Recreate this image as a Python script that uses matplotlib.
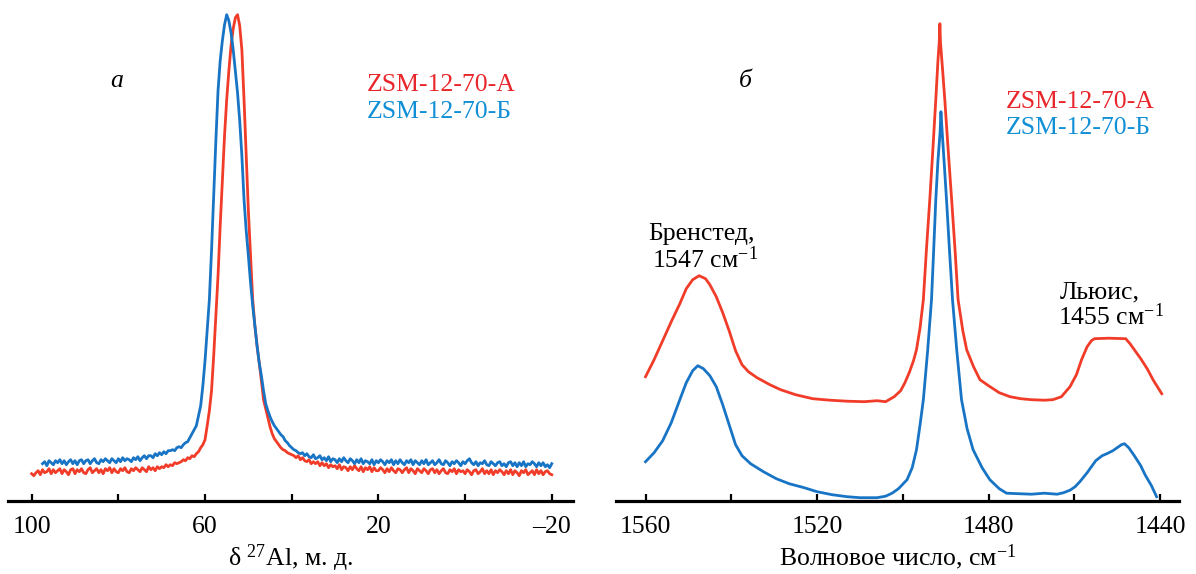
import numpy as np
import matplotlib
matplotlib.use("Agg")
import matplotlib.pyplot as plt

plt.rcParams['font.family'] = ['Liberation Serif', 'DejaVu Serif']
plt.rcParams['mathtext.fontset'] = 'custom'
plt.rcParams['mathtext.rm'] = 'Liberation Serif'
plt.rcParams['mathtext.it'] = 'Liberation Serif:italic'

RED = '#f03c28'
BLUE = '#1874c4'
RED_TXT = '#e8262b'
BLUE_TXT = '#0f8fd6'

# --- panel a: 27Al NMR, intensity (arb. units) on a 0.5 ppm grid ---
nmr_ppm_a = np.arange(100, -20.25, -0.5)
nmr_a = [
    27, 25, 28, 30, 26, 31, 28, 29, 32, 27,
    31, 28, 30, 32, 27, 31, 29, 26, 31, 32,
    27, 31, 29, 32, 28, 27, 31, 33, 28, 30,
    32, 28, 31, 27, 32, 30, 33, 28, 32, 29,
    28, 32, 30, 33, 29, 28, 32, 30, 33, 31,
    29, 33, 31, 29, 34, 31, 33, 30, 34, 32,
    34, 33, 36, 34, 36, 35, 38, 37, 38, 39,
    41, 40, 43, 42, 45, 44, 47, 49, 53, 56,
    61, 75, 90, 110, 145, 185, 225, 275, 320, 365,
    401, 430, 455, 472, 483, 486, 475, 451, 401, 345,
    290, 245, 201, 175, 155, 138, 120, 101, 92, 83,
    74, 67, 62, 59, 56, 53, 51, 50, 48, 47,
    46, 45, 43, 45, 41, 43, 40, 39, 41, 37,
    39, 37, 39, 35, 38, 35, 37, 33, 36, 34,
    35, 32, 36, 31, 34, 33, 30, 34, 31, 35,
    32, 30, 34, 29, 33, 31, 34, 29, 33, 30,
    30, 33, 31, 28, 32, 29, 33, 30, 28, 32,
    31, 28, 31, 33, 28, 32, 30, 27, 32, 30,
    28, 32, 30, 27, 31, 32, 28, 31, 27, 30,
    32, 28, 27, 31, 29, 32, 27, 31, 29, 30,
    27, 31, 29, 26, 30, 31, 27, 29, 32, 27,
    30, 27, 31, 26, 30, 28, 31, 29, 26, 30,
    27, 31, 26, 30, 28, 25, 30, 28, 31, 26,
    28, 30, 26, 31, 27, 30, 26, 29, 30, 27,
    26,
]
nmr_ppm_b = np.arange(97.5, -20.25, -0.5)
nmr_b = [
    37, 39, 35, 40, 38, 36, 40, 38, 41, 37,
    40, 36, 39, 41, 37, 40, 36, 40, 41, 37,
    40, 41, 37, 40, 42, 38, 37, 41, 39, 42,
    40, 38, 42, 40, 38, 42, 39, 43, 40, 42,
    41, 39, 43, 41, 44, 40, 43, 45, 42, 45,
    45, 43, 47, 45, 48, 46, 49, 47, 50, 50,
    51, 50, 53, 54, 53, 56, 58, 59, 63, 67,
    71, 75, 85, 95, 115, 140, 170, 201, 250, 305,
    360, 410, 440, 460, 476, 486, 480, 468, 451, 430,
    408, 380, 345, 301, 270, 245, 218, 195, 175, 155,
    138, 125, 110, 97, 90, 84, 79, 75, 72, 69,
    66, 64, 60, 58, 55, 53, 51, 50, 48, 47,
    48, 45, 47, 44, 43, 46, 42, 43, 45, 41,
    43, 40, 44, 39, 42, 41, 38, 42, 39, 43,
    40, 38, 42, 40, 37, 41, 38, 42, 37, 40,
    39, 37, 41, 36, 40, 38, 41, 39, 36, 40,
    38, 41, 36, 40, 37, 41, 38, 36, 40, 38,
    41, 36, 40, 38, 36, 40, 37, 41, 36, 38,
    40, 36, 38, 41, 37, 36, 40, 38, 35, 39,
    37, 40, 38, 35, 39, 37, 40, 42, 38, 36,
    39, 35, 38, 37, 40, 36, 35, 39, 37, 35,
    38, 39, 35, 37, 34, 38, 39, 35, 38, 34,
    38, 35, 39, 34, 37, 36, 39, 37, 34, 38,
    35, 38, 34, 36, 33, 37,
]

# --- panel b: IR of adsorbed pyridine ---
ir_wn_a = [1560, 1558, 1556, 1554, 1552, 1550.5, 1549, 1547.5, 1546, 1545,
           1543.5, 1542, 1540.5, 1539, 1537.5, 1536, 1534, 1531, 1528.5, 1525,
           1521, 1517, 1513, 1509, 1506, 1504, 1502, 1500.5, 1499.5, 1498.5,
           1497.5, 1496.8, 1496, 1495.2, 1494.5, 1493.7, 1493, 1492.3, 1491.8, 1491.5,
           1491.35, 1491.2, 1490.7, 1490.2, 1489.4, 1488.6, 1487.8, 1487.1, 1486, 1485.1,
           1483.5, 1482, 1480, 1477.5, 1475, 1472.5, 1470, 1467, 1465, 1463,
           1461, 1459.5, 1458.3, 1457, 1456, 1455.3, 1452, 1448, 1447, 1446,
           1444.5, 1443, 1441.5, 1439.6]
ir_a = [124, 141, 160, 179, 197, 212, 221, 225, 222, 216,
        204, 188, 170, 150, 136, 129, 123, 116, 111, 106,
        102, 100.5, 99.5, 99, 100, 99, 104, 110, 118, 128,
        140, 151, 172, 201, 250, 301, 350, 401, 440, 458,
        477, 458, 430, 401, 350, 301, 250, 201, 170, 151,
        134, 121, 115, 108, 104, 102, 101, 100.5, 101, 104,
        114, 126, 141, 154, 160, 162, 162.5, 162, 157, 151,
        142, 132, 120, 107]
ir_wn_b = [1560, 1558, 1556, 1554, 1552, 1550.5, 1549, 1547.8, 1546.5, 1545,
           1543.5, 1542, 1540.5, 1539, 1537.5, 1535.5, 1532.5, 1529.5, 1526.5, 1523,
           1520, 1516.5, 1513, 1510, 1506, 1504, 1502.5, 1501, 1499, 1497.8,
           1496.8, 1496, 1495.2, 1494.2, 1493.3, 1492.8, 1492.3, 1491.8, 1491.3, 1491.1,
           1490.8, 1490.3, 1489.8, 1489.1, 1488.4, 1487.4, 1486.3, 1485, 1483.6, 1481.5,
           1479.7, 1477.5, 1475.8, 1473, 1470, 1467, 1464, 1462.5, 1461, 1459.8,
           1458.7, 1457, 1455, 1453.5, 1452.4, 1451, 1449, 1448.3, 1447.3, 1446,
           1444.5, 1443.5, 1442, 1440.8]
ir_b = [39, 48, 60, 78, 101, 118, 130, 135, 132, 125,
        114, 96, 76, 56, 45, 37, 29, 22, 17, 13,
        9, 6, 4, 3, 3, 4.5, 7.5, 12, 21, 33,
        51, 75, 101, 150, 201, 250, 301, 340, 368, 389,
        368, 335, 301, 250, 201, 150, 101, 72, 51, 33,
        21, 12, 7.5, 7, 6.5, 7.5, 6.5, 8, 10.5, 14,
        19, 28, 40, 45, 47, 50, 56, 57, 53, 45,
        35, 26, 15, 4]

labels = ['ZSM-12-70-А', 'ZSM-12-70-Б']

fig = plt.figure(figsize=(11.96, 5.74), dpi=100)
ax1 = fig.add_axes([0.0069, 0.1277, 0.4722, 0.8723])
ax2 = fig.add_axes([0.515, 0.1277, 0.4707, 0.8723])

FS = 18.5
LW = 2.0


def style_axis(ax, xlim, major, minor):
    ax.set_xlim(*xlim)
    ax.set_ylim(0, 500.7)
    for s in ['top', 'left', 'right']:
        ax.spines[s].set_visible(False)
    ax.spines['bottom'].set_linewidth(2.3)
    ax.set_yticks([])
    ax.set_xticks(major)
    ax.set_xticks(minor, minor=True)
    ax.tick_params(axis='x', which='both', direction='in', length=5,
                   width=1.6, labelsize=FS, pad=11)
    ax.set_xticklabels([str(v).replace('-', '–') for v in major])
    ax.patch.set_alpha(0)


ax1.plot(nmr_ppm_a, nmr_a, color=RED, lw=LW)
ax1.plot(nmr_ppm_b, nmr_b, color=BLUE, lw=LW)
style_axis(ax1, (105.4, -24.9), [100, 60, 20, -20], [80, 40, 0])
ax1.set_xlabel('δ $^{27}$Al, м. д.', fontsize=FS, labelpad=3)
ax1.text(80.4, 414, 'а', fontsize=FS, style='italic', ha='center', va='baseline')
ax1.text(22.7, 410, labels[0], fontsize=FS, color=RED_TXT, va='baseline')
ax1.text(22.7, 383, labels[1], fontsize=FS, color=BLUE_TXT, va='baseline')

ax2.plot(ir_wn_a, ir_a, color=RED, lw=LW)
ax2.plot(ir_wn_b, ir_b, color=BLUE, lw=LW)
style_axis(ax2, (1566.9, 1435.6), [1560, 1520, 1480, 1440], [1540, 1500, 1460])
ax2.set_xlabel('Волновое число, см$^{-1}$', fontsize=FS, labelpad=3)
ax2.text(1536.8, 414, 'б', fontsize=FS, style='italic', ha='center', va='baseline')
ax2.text(1475.9, 393, labels[0], fontsize=FS, color=RED_TXT, va='baseline')
ax2.text(1475.9, 367, labels[1], fontsize=FS, color=BLUE_TXT, va='baseline')
ax2.text(1546.9, 260.7, 'Бренстед,', fontsize=FS, ha='center', va='baseline')
ax2.text(1546.2, 232.7, '1547 см$^{-1}$', fontsize=FS, ha='center', va='baseline')
ax2.text(1454.0, 202.7, 'Льюис,', fontsize=FS, ha='center', va='baseline')
ax2.text(1451.4, 175.7, '1455 см$^{-1}$', fontsize=FS, ha='center', va='baseline')

fig.savefig('out.png', dpi=100)
